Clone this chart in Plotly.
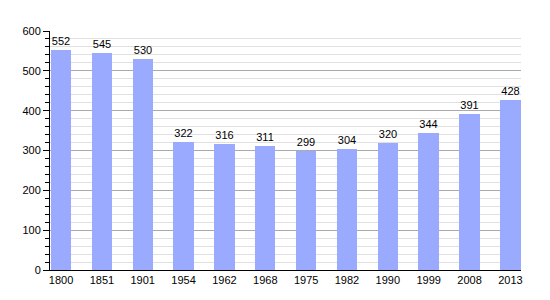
import plotly.graph_objects as go

years = ["1800", "1851", "1901", "1954", "1962", "1968", "1975", "1982", "1990", "1999", "2008", "2013"]
population = [552, 545, 530, 322, 316, 311, 299, 304, 320, 344, 391, 428]
y_ticks = [0, 100, 200, 300, 400, 500, 600]

fig = go.Figure()
fig.add_trace(go.Bar(
    x=list(range(len(years))),
    y=population,
    width=0.5,
    marker=dict(color="#99aaff", line=dict(width=0)),
    text=[str(v) for v in population],
    textposition="outside",
    textfont=dict(family="Liberation Sans, Arial, sans-serif", size=11, color="black"),
    cliponaxis=False,
))

fig.update_layout(
    width=550, height=300,
    margin=dict(l=50, r=29, t=31, b=30),
    paper_bgcolor="white", plot_bgcolor="white",
    showlegend=False,
    font=dict(family="Liberation Sans, Arial, sans-serif", size=11, color="black"),
    bargap=0,
)
fig.update_xaxes(
    range=[-0.27, 11.26],
    tickmode="array",
    tickvals=list(range(len(years))),
    ticktext=years,
    showgrid=False,
    showline=True, linecolor="black", linewidth=1,
    ticks="",
    zeroline=False,
)
fig.update_yaxes(
    range=[0, 600],
    tickmode="array",
    tickvals=y_ticks,
    ticks="outside", ticklen=6, tickcolor="black", tickwidth=1,
    showline=True, linecolor="black", linewidth=1,
    showgrid=True, gridcolor="#aaaaaa", gridwidth=1,
    minor=dict(dtick=20, tick0=0, showgrid=True, gridcolor="#e0e0e0", gridwidth=1,
               ticks="outside", ticklen=4, tickcolor="black"),
    zeroline=False,
)

fig.write_html("out.html")
